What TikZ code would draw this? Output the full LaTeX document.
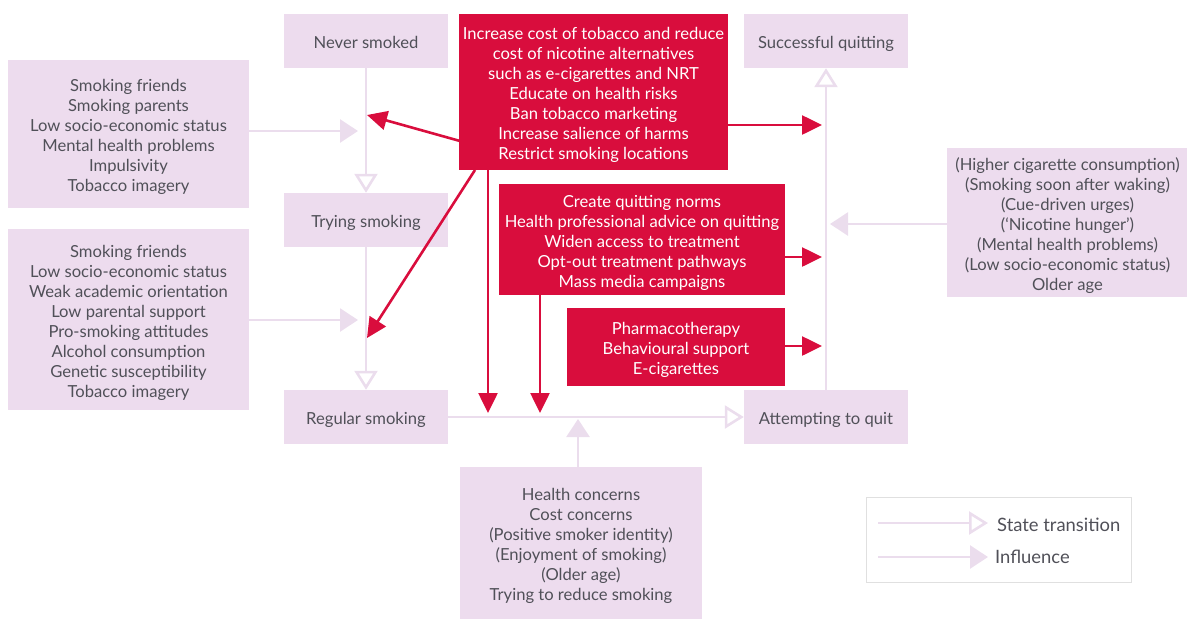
\documentclass[tikz,border=0pt]{standalone}
\usepackage{fontspec}
\setmainfont{Lato}
\usetikzlibrary{arrows.meta}
\definecolor{boxfill}{HTML}{EDDCEE}
\definecolor{lineclr}{HTML}{EBDDED}
\definecolor{polred}{HTML}{D90D3D}
\definecolor{txt}{HTML}{505058}
\newcommand{\topst}{\rule{0pt}{20pt}}
\newcommand{\botst}{\rule[-5pt]{0pt}{5pt}}
\begin{document}
\begin{tikzpicture}[x=1pt,y=-1pt,
  base/.style={inner sep=0pt, align=center, font={\fontsize{16.6}{20}\selectfont}},
  state/.style={base, fill=boxfill, text=txt, minimum width=164pt, minimum height=54pt},
  factor/.style={base, fill=boxfill, text=txt},
  policy/.style={base, fill=polred, text=white},
  trans/.style={draw=lineclr, line width=2.6pt, -{Triangle[open, length=19pt, width=23pt, fill=white]}},
  infl/.style={draw=lineclr, line width=2.6pt, -{Triangle[length=18pt, width=23pt, fill=lineclr]}},
  redarr/.style={draw=polred, line width=2.6pt, -{Triangle[length=20pt, width=19pt, fill=polred]}},
  legtext/.style={inner sep=0pt, font={\fontsize{18.4}{22}\selectfont}, text=txt, anchor=west}]
\useasboundingbox (0,0) rectangle (1187,619);

% states
\node[state] (never) at (366,41) {\topst Never smoked\botst};
\node[state] (trying) at (366,220) {\topst Trying smoking\botst};
\node[state] (regular) at (366,417) {\topst Regular smoking\botst};
\node[state] (success) at (826,41) {\topst Successful quitting\botst};
\node[state] (attempt) at (826,417) {\topst Attempting to quit\botst};

% factor boxes
\node[factor, minimum width=241pt, minimum height=148pt] (f1) at (128.5,134) {\topst Smoking friends\\Smoking parents\\Low socio-economic status\\Mental health problems\\Impulsivity\\Tobacco imagery\botst};
\node[factor, minimum width=241pt, minimum height=181pt] (f2) at (128.5,319.5) {\topst Smoking friends\\Low socio-economic status\\Weak academic orientation\\Low parental support\\Pro-smoking attitudes\\Alcohol consumption\\Genetic susceptibility\\Tobacco imagery\botst};
\node[factor, minimum width=241pt, minimum height=149pt] (f3) at (1067.5,222.5) {\topst (Higher cigarette consumption)\\(Smoking soon after waking)\\(Cue-driven urges)\\(`Nicotine hunger')\\(Mental health problems)\\(Low socio-economic status)\\Older age\botst};
\node[factor, minimum width=242pt, minimum height=152pt] (f4) at (581,543) {\topst Health concerns\\Cost concerns\\(Positive smoker identity)\\(Enjoyment of smoking)\\(Older age)\\Trying to reduce smoking\botst};

% policy boxes
\node[policy, minimum width=269pt, minimum height=156pt] (p1) at (593.5,92) {\topst Increase cost of tobacco and reduce\\cost of nicotine alternatives\\such as e-cigarettes and NRT\\Educate on health risks\\Ban tobacco marketing\\Increase salience of harms\\Restrict smoking locations\botst};
\node[policy, minimum width=286pt, minimum height=111pt] (p2) at (642,239.5) {\topst Create quitting norms\\Health professional advice on quitting\\Widen access to treatment\\Opt-out treatment pathways\\Mass media campaigns\botst};
\node[policy, minimum width=218pt, minimum height=78pt] (p3) at (676,347) {\topst Pharmacotherapy\\Behavioural support\\E-cigarettes\botst};

% coordinates on the lines
\coordinate (c1) at (358,131);
\coordinate (c2) at (358,320);
\coordinate (c3) at (367,115);
\coordinate (c4) at (367,338);
\coordinate (c5) at (488,413);
\coordinate (c6) at (540,413);
\coordinate (c7) at (578,419);
\coordinate (c8) at (822,125);
\coordinate (c9) at (822,257);
\coordinate (c10) at (822,346);
\coordinate (c11) at (830,224);
\coordinate (s1) at (460,141);
\coordinate (s2) at (475,170);

% state transitions
\draw[trans] (never.south) -- (trying.north);
\draw[trans] (trying.south) -- (regular.north);
\draw[trans] (regular.east) -- (attempt.west);
\draw[trans] (attempt.north) -- (success.south);

% influences
\draw[infl] (f1.east |- c1) -- (c1);
\draw[infl] (f2.east |- c2) -- (c2);
\draw[infl] (f4.north -| c7) -- (c7);
\draw[infl] (f3.west |- c11) -- (c11);

% policy influences
\draw[redarr] (s1) -- (c3);
\draw[redarr] (s2) -- (c4);
\draw[redarr] (p1.south -| c5) -- (c5);
\draw[redarr] (p2.south -| c6) -- (c6);
\draw[redarr] (p1.east |- c8) -- (c8);
\draw[redarr] (p2.east |- c9) -- (c9);
\draw[redarr] (p3.east |- c10) -- (c10);

% legend
\node[draw=black!12, line width=1pt, minimum width=265pt, minimum height=85pt, inner sep=0pt] (legend) at (998.5,539.5) {};
\coordinate (l1a) at (878,523);
\coordinate (l1b) at (988,523);
\coordinate (l2a) at (878,557);
\coordinate (l2b) at (988,557);
\draw[trans] (l1a) -- (l1b);
\draw[infl] (l2a) -- (l2b);
\node[legtext] (lt1) at (997,525) {State transition};
\node[legtext] (lt2) at (995,557) {Influence};
\end{tikzpicture}
\end{document}
